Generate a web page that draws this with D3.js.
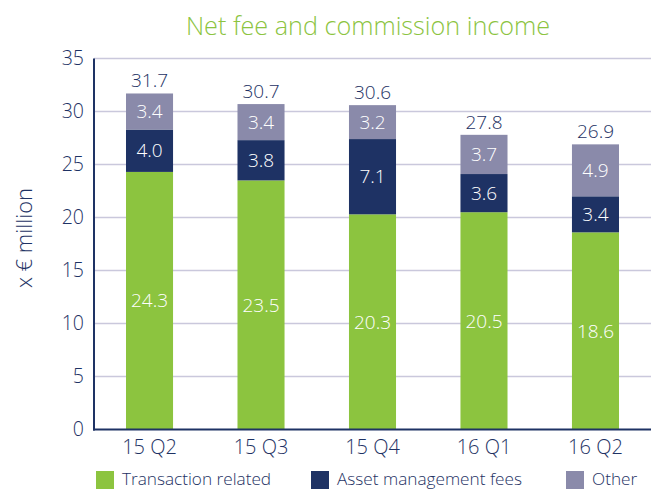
<!DOCTYPE html>
<html>
<head>
<meta charset="utf-8">
<script src="https://cdn.jsdelivr.net/npm/d3@7"></script>
<style>
  html, body { margin: 0; padding: 0; background: #fff; }
  svg { display: block; font-family: "Open Sans", "Noto Sans", sans-serif; }
</style>
</head>
<body>
<svg id="chart" width="651" height="489"></svg>
<script>
// D3 v7
const quarters = ['15 Q2', '15 Q3', '15 Q4', '16 Q1', '16 Q2'];
const transaction = [24.3, 23.5, 20.3, 20.5, 18.6];
const assetMgmt = [4.0, 3.8, 7.1, 3.6, 3.4];
const other = [3.4, 3.4, 3.2, 3.7, 4.9];
const totals = [31.7, 30.7, 30.6, 27.8, 26.9];
const yTicks = [0, 5, 10, 15, 20, 25, 30, 35];
const seriesNames = ['Transaction related', 'Asset management fees', 'Other'];

const colors = { green: '#8cc43f', navy: '#1e3264', other: '#8a8aaa', grid: '#cac8dc' };
const seriesColors = [colors.green, colors.navy, colors.other];

const svg = d3.select('#chart');
const W = +svg.attr('width');
const plotLeft = 94, plotBottom = 429.5, plotTop = 58.5;

const x = d3.scaleBand().domain(quarters).range([plotLeft, W])
  .paddingInner(0.578).paddingOuter(0.287);
const y = d3.scaleLinear().domain([0, 35]).range([plotBottom, plotTop]);

// rows for stacking
const rows = quarters.map((q, i) => ({ q, t: transaction[i], a: assetMgmt[i], o: other[i], total: totals[i] }));
const stack = d3.stack().keys(['t', 'a', 'o'])(rows);

// title
svg.append('text')
  .attr('x', 368).attr('y', 35)
  .attr('text-anchor', 'middle')
  .attr('fill', colors.green)
  .attr('font-size', '25.2px')
  .attr('font-weight', 300)
  .text('Net fee and commission income');

// gridlines
svg.append('g').selectAll('line').data(yTicks.filter(d => d > 0)).join('line')
  .attr('x1', plotLeft).attr('x2', W)
  .attr('y1', d => y(d)).attr('y2', d => y(d))
  .attr('stroke', colors.grid).attr('stroke-width', 1.5);

// y axis
const yAxis = svg.append('g').attr('transform', `translate(${plotLeft},0)`)
  .call(d3.axisLeft(y).tickValues(yTicks).tickSize(0).tickPadding(10));
yAxis.select('.domain').remove();
yAxis.selectAll('text')
  .attr('fill', colors.navy).attr('font-size', '19.5px')
  .attr('font-family', '"Open Sans", sans-serif').attr('font-weight', 300);

svg.append('text')
  .attr('transform', `translate(32,${(plotTop + plotBottom) / 2 - 6}) rotate(-90)`)
  .attr('text-anchor', 'middle')
  .attr('fill', colors.navy)
  .attr('font-size', '22px')
  .attr('font-weight', 300)
  .text('x € million');

// bars
const layers = svg.append('g').selectAll('g').data(stack).join('g')
  .attr('fill', (d, i) => seriesColors[i]);
layers.selectAll('rect').data(d => d).join('rect')
  .attr('x', d => x(d.data.q))
  .attr('width', x.bandwidth())
  .attr('y', d => y(d[1]))
  .attr('height', d => y(d[0]) - y(d[1]));

// segment labels
layers.selectAll('text').data(d => d.map(v => Object.assign(v, { key: d.key }))).join('text')
  .attr('x', d => x(d.data.q) + x.bandwidth() / 2)
  .attr('y', d => y((d[0] + d[1]) / 2))
  .attr('dy', '0.35em')
  .attr('text-anchor', 'middle')
  .attr('fill', '#fff')
  .attr('font-size', '19px')
  .attr('font-weight', 300)
  .text(d => d.data[d.key].toFixed(1));

// totals
svg.append('g').selectAll('text').data(rows).join('text')
  .attr('x', d => x(d.q) + x.bandwidth() / 2)
  .attr('y', d => y(d.total) - 6)
  .attr('text-anchor', 'middle')
  .attr('fill', colors.navy)
  .attr('font-size', '19px')
  .attr('font-weight', 300)
  .text(d => d.total.toFixed(1));

// axis lines
svg.append('line').attr('x1', plotLeft).attr('x2', plotLeft).attr('y1', plotTop).attr('y2', plotBottom + 1)
  .attr('stroke', colors.navy).attr('stroke-width', 2);
svg.append('line').attr('x1', plotLeft - 1).attr('x2', W).attr('y1', plotBottom).attr('y2', plotBottom)
  .attr('stroke', colors.navy).attr('stroke-width', 2);

// x labels
const xAxis = svg.append('g').attr('transform', `translate(0,${plotBottom})`)
  .call(d3.axisBottom(x).tickSize(0).tickPadding(10));
xAxis.select('.domain').remove();
xAxis.selectAll('text')
  .attr('fill', colors.navy).attr('font-size', '20px')
  .attr('font-family', '"Open Sans", sans-serif').attr('font-weight', 300);

// legend
const legendX = [96, 311, 566];
const lg = svg.append('g').selectAll('g').data(seriesNames).join('g')
  .attr('transform', (d, i) => `translate(${legendX[i]},471)`);
lg.append('rect').attr('width', 18).attr('height', 18).attr('fill', (d, i) => seriesColors[i]);
lg.append('text')
  .attr('x', 26).attr('y', 14)
  .attr('fill', colors.navy)
  .attr('font-size', '17.2px')
  .attr('font-weight', 300)
  .text(d => d);
</script>
</body>
</html>
